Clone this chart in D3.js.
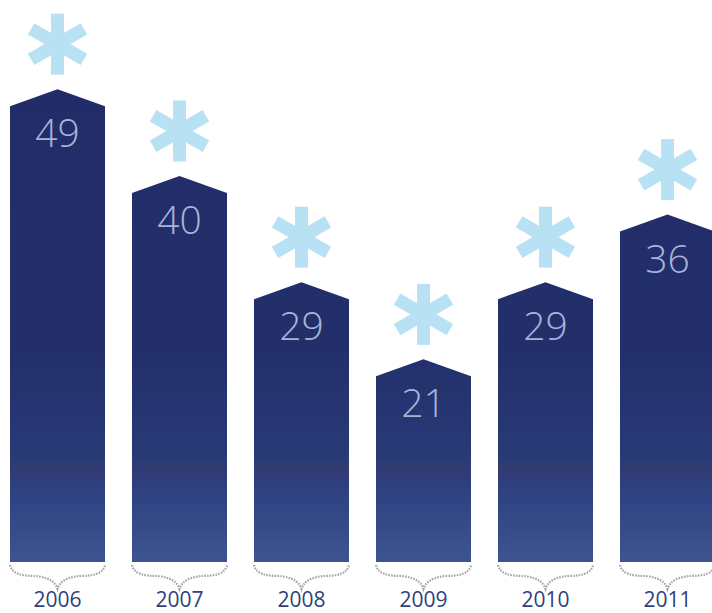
<!DOCTYPE html>
<html>
<head>
<meta charset="utf-8">
<script src="https://cdn.jsdelivr.net/npm/d3@7/dist/d3.min.js"></script>
<style>
  html, body { margin: 0; padding: 0; background: #fff; }
  svg { display: block; }
</style>
</head>
<body>
<div id="chart"></div>
<script>
var years = ["2006", "2007", "2008", "2009", "2010", "2011"];
var values = [49, 40, 29, 21, 29, 36];

var width = 712,
    height = 613,
    baseY = 562,
    peak = 17;

var svg = d3.select("#chart").append("svg")
    .attr("width", width)
    .attr("height", height);

var x = d3.scaleBand()
    .domain(years)
    .range([10, 715])
    .paddingInner(0.2213)
    .paddingOuter(0);

var y = d3.scaleLinear()
    .domain([0, 50])
    .range([baseY, baseY - 50 * 9.65]);

// one gradient shared by every bar (same colour at same height)
var defs = svg.append("defs");
var grad = defs.append("linearGradient")
    .attr("id", "barGrad")
    .attr("gradientUnits", "userSpaceOnUse")
    .attr("x1", 0).attr("y1", y(49))
    .attr("x2", 0).attr("y2", baseY);
grad.append("stop").attr("offset", "0%").attr("stop-color", "#222c69");
grad.append("stop").attr("offset", "55%").attr("stop-color", "#232f6b");
grad.append("stop").attr("offset", "78%").attr("stop-color", "#283a76");
grad.append("stop").attr("offset", "80%").attr("stop-color", "#333a72");
grad.append("stop").attr("offset", "84%").attr("stop-color", "#2d4080");
grad.append("stop").attr("offset", "100%").attr("stop-color", "#3c5590");

var data = years.map(function (d, i) {
    return {year: d, value: values[i]};
});

var g = svg.append("g");

// house-shaped bars
g.selectAll("path.bar")
    .data(data)
    .enter().append("path")
    .attr("class", "bar")
    .attr("fill", "url(#barGrad)")
    .attr("d", function (d) {
        var x0 = x(d.year), x1 = x0 + x.bandwidth(), cx = x0 + x.bandwidth() / 2;
        var top = y(d.value);
        return "M" + x0 + "," + baseY +
            "L" + x0 + "," + (top + peak) +
            "L" + cx + "," + top +
            "L" + x1 + "," + (top + peak) +
            "L" + x1 + "," + baseY + "Z";
    });

// value labels
g.selectAll("text.val")
    .data(data)
    .enter().append("text")
    .attr("class", "val")
    .attr("x", function (d) { return x(d.year) + x.bandwidth() / 2; })
    .attr("y", function (d) { return y(d.value) + 58; })
    .attr("text-anchor", "middle")
    .style("font-family", "'Open Sans', sans-serif")
    .style("font-weight", 300)
    .style("font-size", "39px")
    .style("fill", "#a9b3d6")
    .text(function (d) { return d.value; });

// asterisks
var stars = g.selectAll("g.star")
    .data(data)
    .enter().append("g")
    .attr("class", "star")
    .attr("transform", function (d) {
        return "translate(" + (x(d.year) + x.bandwidth() / 2) + "," + (y(d.value) - 45) + ")";
    });
stars.selectAll("line")
    .data([90, 30, 150])
    .enter().append("line")
    .attr("x1", function (a) { return -30.5 * Math.cos(a * Math.PI / 180); })
    .attr("y1", function (a) { return -30.5 * Math.sin(a * Math.PI / 180); })
    .attr("x2", function (a) { return 30.5 * Math.cos(a * Math.PI / 180); })
    .attr("y2", function (a) { return 30.5 * Math.sin(a * Math.PI / 180); })
    .attr("stroke", "#b8e2f4")
    .attr("stroke-width", 13);

// dotted braces under bars
g.selectAll("path.brace")
    .data(data)
    .enter().append("path")
    .attr("class", "brace")
    .attr("fill", "none")
    .attr("stroke", "#a6a6a6")
    .attr("stroke-width", 2.2)
    .attr("stroke-dasharray", "1.6,1.2")
    .attr("d", function (d) {
        var x0 = x(d.year), x1 = x0 + x.bandwidth(), cx = x0 + x.bandwidth() / 2;
        var t = 565, m = 576, b = 589;
        return "M" + x0 + "," + t +
            "C" + (x0 + 2) + "," + (m - 2) + " " + (x0 + 12) + "," + m + " " + (x0 + 26) + "," + m +
            "C" + (cx - 14) + "," + (m + 1) + " " + (cx - 3) + "," + (m + 3) + " " + cx + "," + b +
            "C" + (cx + 3) + "," + (m + 3) + " " + (cx + 14) + "," + (m + 1) + " " + (x1 - 26) + "," + m +
            "C" + (x1 - 12) + "," + m + " " + (x1 - 2) + "," + (m - 2) + " " + x1 + "," + t;
    });

// year labels
g.selectAll("text.year")
    .data(data)
    .enter().append("text")
    .attr("class", "year")
    .attr("x", function (d) { return x(d.year) + x.bandwidth() / 2; })
    .attr("y", 607)
    .attr("text-anchor", "middle")
    .style("font-family", "'Open Sans', sans-serif")
    .style("font-size", "21px")
    .style("fill", "#2f3f7c")
    .text(function (d) { return d.year; });
</script>
</body>
</html>
